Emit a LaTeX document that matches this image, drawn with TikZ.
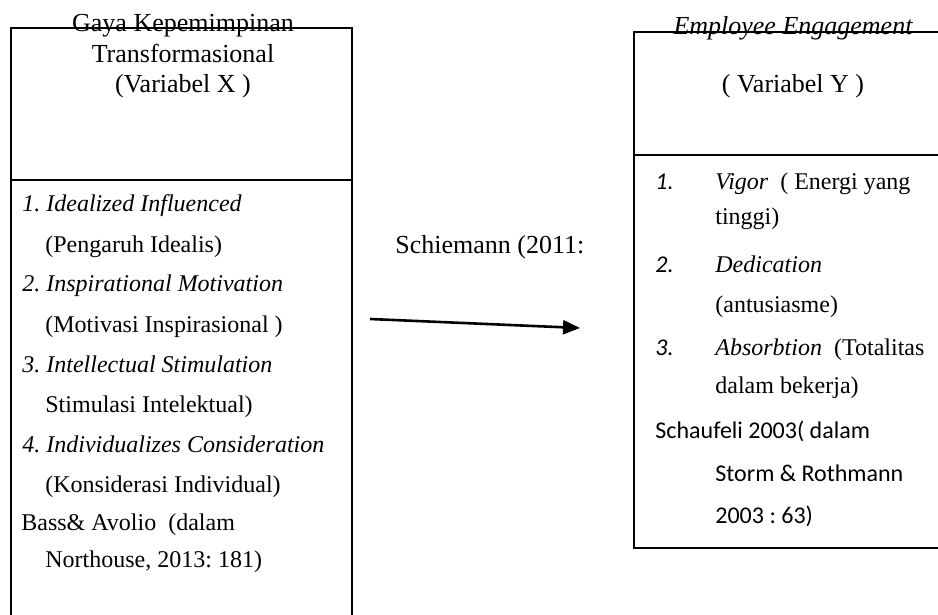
\documentclass[tikz,border=0pt]{standalone}
\usepackage{fontspec}
\setmainfont{Liberation Serif}
\newfontfamily\calibri{Carlito}
\usetikzlibrary{positioning,arrows.meta}

\begin{document}
\frenchspacing
\begin{tikzpicture}[x=0.5pt, y=-0.5pt,
  every node/.style={inner sep=0pt, font=\fontsize{13}{16}\selectfont},
  txt/.style={anchor=base west, font=\fontsize{12}{15}\selectfont}, hd/.style={anchor=base},
  box/.style={draw, line width=1pt}]
\useasboundingbox (0,0) rectangle (938,615);
\clip (0,0) rectangle (938,615);
% the two boxes
\draw[box] (11,28) rectangle (352,660);
\draw[box] (11,180) -- (352,180);
\draw[box] (634,32) rectangle (960,548);
\draw[box] (634,155) -- (960,155);

\node[hd] (x1) at (183,32) {Gaya Kepemimpinan};
\node[hd] (x2) at (183,63) {Transformasional};
\node[hd] (x3) at (183,93) {(Variabel X )};
\node[hd] (y1) at (793,35) {\itshape Employee Engagement};
\node[hd] (y2) at (793,93) {( Variabel Y )};

\foreach \x/\y/\t [count=\i] in {22/212/{\itshape 1. Idealized Influenced},
  45/252/{(Pengaruh Idealis)}, 22/292/{\itshape 2. Inspirational Motivation},
  45/332/{(Motivasi Inspirasional )}, 22/372/{\itshape 3. Intellectual Stimulation},
  45/412/{Stimulasi Intelektual)}, 22/452/{\itshape 4. Individualizes Consideration},
  45/492/{(Konsiderasi Individual)}, 21/530/{Bass\&\ Avolio\ \ (dalam},
  45/567/{Northouse, 2013: 181)}}
  {\node[txt] (l\i) at (\x,\y) {\t};}

\foreach \y/\n [count=\i] in {190/1., 272/2., 355/3.}
  {\node[txt] (n\i) at (655,\y) {\calibri\itshape \n};}

\foreach \y/\t [count=\i] in {190/{{\itshape Vigor}\ \ ( Energi yang}, 225/{tinggi)},
  272/{\itshape Dedication}, 312/{(antusiasme)},
  355/{{\itshape Absorbtion}\ \ (Totalitas}, 393/{dalam bekerja)}}
  {\node[txt] (r\i) at (715,\y) {\t};}

\node[txt] (s1) at (655,438) {\calibri Schaufeli 2003( dalam};
\node[txt] (s2) at (715,481) {\calibri Storm \& Rothmann};
\node[txt] (s3) at (715,523) {\calibri 2003 : 63)};

\node[anchor=base west] (src) at (395,253) {Schiemann (2011:};
\coordinate (a) at (370,319);
\coordinate (b) at (580,328);
\draw[line width=1.3pt, -{Triangle[length=8.5pt,width=7pt]}] (a) -- (b);
\end{tikzpicture}
\end{document}
